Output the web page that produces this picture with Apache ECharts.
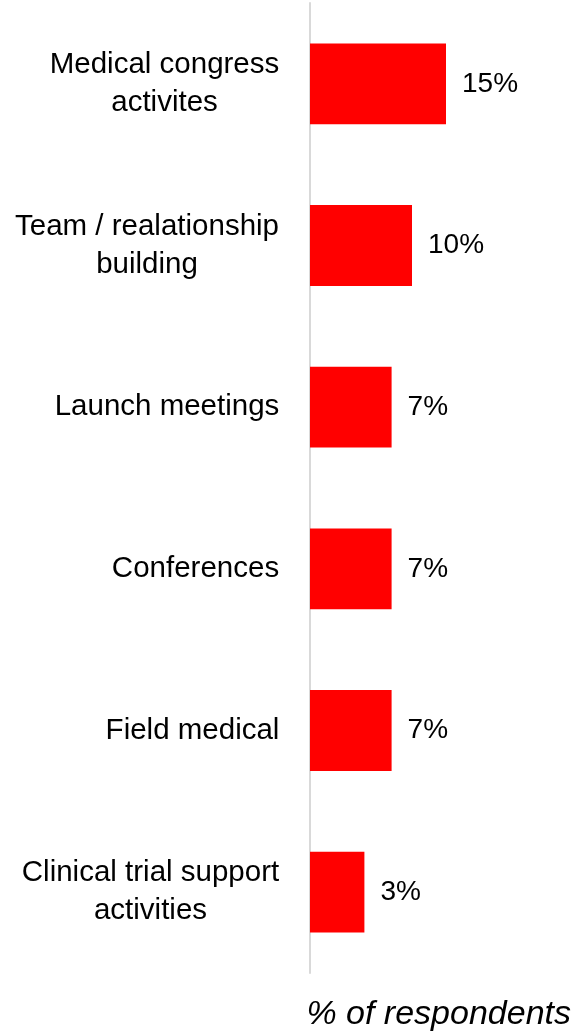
<!DOCTYPE html>
<html>
<head>
<meta charset="utf-8">
<script src="https://cdn.jsdelivr.net/npm/echarts@6/dist/echarts.min.js"></script>
<style>
html,body{margin:0;padding:0;background:#fff;}
#chart{width:577px;height:1035px;}
</style>
</head>
<body>
<div id="chart"></div>
<script>
const categories = [
  'Medical congress\nactivites',
  'Team / realationship\nbuilding',
  'Launch meetings',
  'Conferences',
  'Field medical',
  'Clinical trial support\nactivities'
];
const values = [15, 10, 7, 7, 7, 3];
const axisTitle = '% of respondents';

const FONT = '"Liberation Sans", Arial, sans-serif';
const LABEL_SIZE = 29.5;
const VALUE_SIZE = 28;

// measure label lines so multi-line labels are centred within a right-aligned block
const ctx = document.createElement('canvas').getContext('2d');
ctx.font = LABEL_SIZE + 'px ' + FONT;
const rich = {};
categories.forEach(function (c, i) {
  const w = Math.max.apply(null, c.split('\n').map(function (l) { return ctx.measureText(l).width; }));
  rich['c' + i] = {
    width: Math.ceil(w) + 1,
    align: 'center',
    fontSize: LABEL_SIZE,
    fontFamily: FONT,
    color: '#000',
    lineHeight: 38
  };
});

const chart = echarts.init(document.getElementById('chart'), null, {renderer: 'canvas'});
chart.setOption({
  animation: false,
  backgroundColor: '#fff',
  title: {
    text: axisTitle,
    right: 1,
    top: 993,
    textStyle: {fontFamily: FONT, fontStyle: 'italic', fontWeight: 'normal', fontSize: 34, color: '#000'}
  },
  grid: {left: 310, right: 29, top: 3, bottom: 62, containLabel: false},
  xAxis: {
    type: 'value',
    min: -5,
    max: 30,
    startValue: -5,
    show: false,
    splitLine: {show: false}
  },
  yAxis: {
    type: 'category',
    data: categories,
    inverse: true,
    axisLine: {show: true, onZero: false, lineStyle: {color: '#d9d9d9', width: 2}},
    axisTick: {show: false},
    axisLabel: {
      margin: 30,
      align: 'right',
      formatter: function (v, i) {
        return v.split('\n').map(function (l) { return '{c' + i + '|' + l + '}'; }).join('\n');
      },
      rich: rich
    }
  },
  series: [{
    type: 'bar',
    data: values,
    barCategoryGap: '50%',
    itemStyle: {color: '#ff0000'},
    label: {
      show: true,
      position: 'right',
      distance: 16,
      formatter: '{c}%',
      fontFamily: FONT,
      fontSize: VALUE_SIZE,
      color: '#000'
    }
  }]
});
</script>
</body>
</html>
